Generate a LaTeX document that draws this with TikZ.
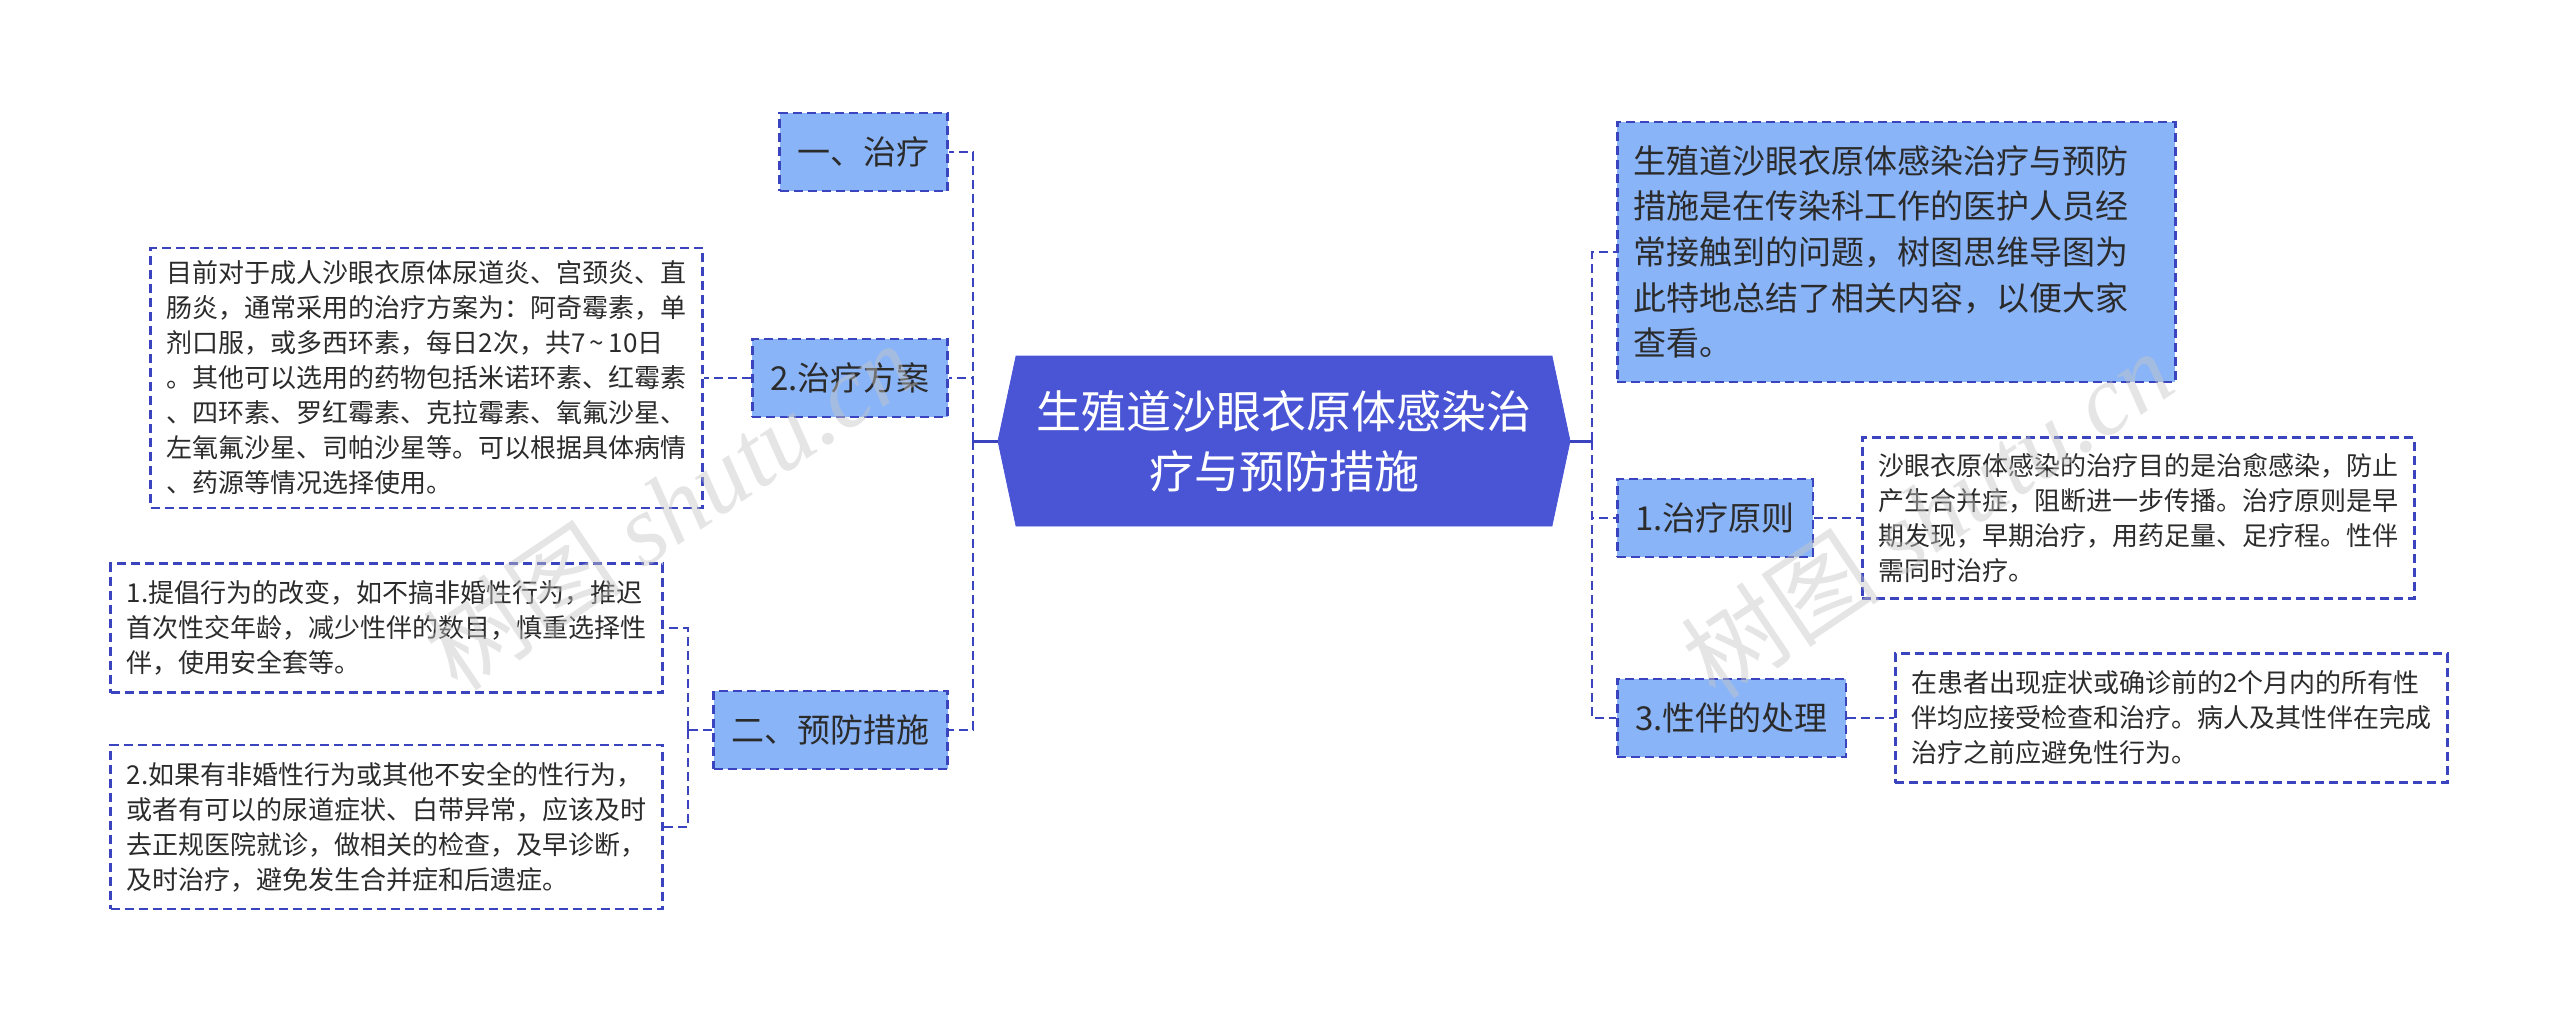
\documentclass[tikz,border=0pt]{standalone}
\usepackage{fontspec}
\setmainfont{Noto Sans CJK SC}
\newfontfamily\wmfont{Liberation Serif}
\usepackage{tikz}
\usetikzlibrary{shapes.symbols,positioning}
\definecolor{linkblue}{HTML}{3A44BE}
\definecolor{hubfill}{HTML}{4A55D6}
\definecolor{labelfill}{HTML}{8AB4F8}
\definecolor{ink}{HTML}{2B2B2B}

\begin{document}
\begin{tikzpicture}[
  x=0.5pt, y=-0.5pt,
  hub/.style={
    shape=signal,
    signal to=west and east,
    signal pointer angle=156,
    fill=hubfill,
    draw=hubfill,
    text=white,
    align=center,
    minimum width=286pt,
    minimum height=85pt,
    font=\fontsize{22.5}{30}\selectfont
  },
  label/.style={
    draw=linkblue,
    line width=1.3pt,
    dash pattern=on 4.5pt off 2.5pt,
    fill=labelfill,
    text=ink,
    inner xsep=9pt,
    minimum height=39pt,
    font=\fontsize{16.5}{20}\selectfont
  },
  note/.style={
    draw=linkblue,
    line width=1.3pt,
    dash pattern=on 4.5pt off 2.5pt,
    fill=white,
    text=ink,
    align=left,
    text width=260pt,
    inner xsep=8pt,
    inner ysep=6pt,
    font=\fontsize{13}{17.5}\selectfont
  },
  lead/.style={
    note,
    fill=labelfill,
    text width=263pt,
    minimum height=130pt,
    font=\fontsize{16.5}{22.8}\selectfont
  },
  link/.style={linkblue,line width=1.4pt,dash pattern=on 4.5pt off 2.5pt},
  trunk/.style={linkblue,line width=1.5pt},
  wmark/.style={text=gray!45,opacity=0.45,rotate=34,font=\fontsize{50}{50}\selectfont}
]
  \useasboundingbox (0,0) rectangle (2560,1024);

  \node[hub] (hub) at (1284,441) {生殖道沙眼衣原体感染治\\疗与预防措施};

  % left branch
  \node[label,anchor=east] (cure) at (949,152) {一、治疗};
  \node[label,anchor=east] (plan) at (949,378) {2.治疗方案};
  \node[label,anchor=east] (prev) at (949,730) {二、预防措施};

  \node[note,anchor=east,minimum height=130pt] (plantext) at (704,378)
    {目前对于成人沙眼衣原体尿道炎、宫颈炎、直\\
     肠炎，通常采用的治疗方案为：阿奇霉素，单\\
     剂口服，或多西环素，每日2次，共7\,\textasciitilde\,10日\\
     。其他可以选用的药物包括米诺环素、红霉素\\
     、四环素、罗红霉素、克拉霉素、氧氟沙星、\\
     左氧氟沙星、司帕沙星等。可以根据具体病情\\
     、药源等情况选择使用。};

  \node[note,anchor=east,minimum height=64.5pt] (prevone) at (664,628)
    {1.提倡行为的改变，如不搞非婚性行为，推迟\\
     首次性交年龄，减少性伴的数目，慎重选择性\\
     伴，使用安全套等。};

  \node[note,anchor=east,minimum height=82pt] (prevtwo) at (664,827)
    {2.如果有非婚性行为或其他不安全的性行为，\\
     或者有可以的尿道症状、白带异常，应该及时\\
     去正规医院就诊，做相关的检查，及早诊断，\\
     及时治疗，避免发生合并症和后遗症。};

  % right branch
  \node[lead,anchor=west] (intro) at (1616,252)
    {生殖道沙眼衣原体感染治疗与预防\\
     措施是在传染科工作的医护人员经\\
     常接触到的问题，树图思维导图为\\
     此特地总结了相关内容，以便大家\\
     查看。};

  \node[label,anchor=west] (rule) at (1616,518) {1.治疗原则};
  \node[note,anchor=west,minimum height=80.5pt] (ruletext) at (1861,518)
    {沙眼衣原体感染的治疗目的是治愈感染，防止\\
     产生合并症，阻断进一步传播。治疗原则是早\\
     期发现，早期治疗，用药足量、足疗程。性伴\\
     需同时治疗。};

  \node[label,anchor=west] (mate) at (1616,718) {3.性伴的处理};
  \node[note,anchor=west,minimum height=64.5pt] (matetext) at (1894,718)
    {在患者出现症状或确诊前的2个月内的所有性\\
     伴均应接受检查和治疗。病人及其性伴在完成\\
     治疗之前应避免性行为。};

  \coordinate (lj) at (973,441);
  \coordinate (rj) at (1592,441);
  \coordinate (pj) at (688,730);

  \draw[trunk] (hub.west) -- (lj);
  \draw[trunk] (hub.east) -- (rj);
  \draw[link] (lj) |- (cure.east);
  \draw[link] (lj) |- (plan.east);
  \draw[link] (lj) |- (prev.east);
  \draw[link] (plan.west) -- (plantext.east);
  \draw[link] (prev.west) -- (pj);
  \draw[link] (pj) |- (prevone.east);
  \draw[link] (pj) |- (prevtwo.east);
  \draw[link] (rj) |- (intro.west);
  \draw[link] (rj) |- (rule.west);
  \draw[link] (rj) |- (mate.west);
  \draw[link] (rule.east) -- (ruletext.west);
  \draw[link] (mate.east) -- (matetext.west);

  \node[wmark] (wmleft) at (669,506) {树图 {\wmfont\itshape shutu.cn}};
  \node[wmark] (wmright) at (1927,514) {树图 {\wmfont\itshape shutu.cn}};

\end{tikzpicture}
\end{document}
